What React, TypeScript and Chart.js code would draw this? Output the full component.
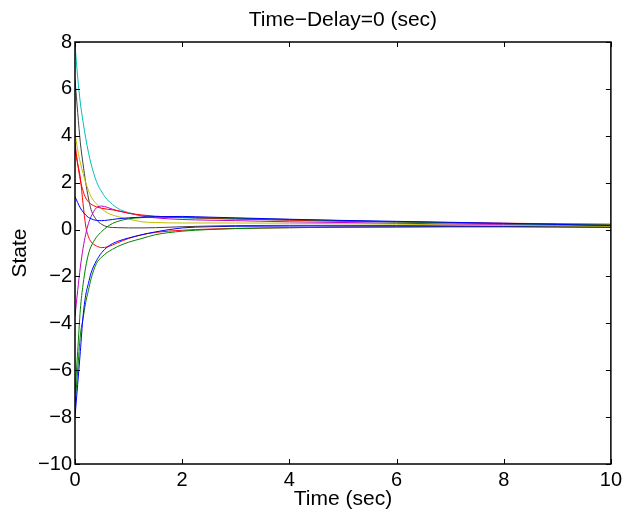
import React, { useEffect, useRef } from "react";
import { Chart, registerables } from "chart.js";

Chart.register(...registerables);

const TITLE = "Time\u2212Delay=0 (sec)";
const X_LABEL = "Time (sec)";
const Y_LABEL = "State";

const X_TICKS = [0, 2, 4, 6, 8, 10];
const Y_TICKS = [-10, -8, -6, -4, -2, 0, 2, 4, 6, 8];

const time = [0, 0.05, 0.1, 0.15, 0.2, 0.25, 0.3, 0.4, 0.5, 0.6, 0.7, 0.8, 1.0, 1.25, 1.5, 2, 2.5, 3, 4, 5, 6, 7, 8, 9, 10];

const blue1 = [1.4, 1.15, 0.92, 0.75, 0.62, 0.52, 0.46, 0.39, 0.38, 0.4, 0.43, 0.46, 0.5, 0.53, 0.55, 0.56, 0.53, 0.5, 0.44, 0.39, 0.35, 0.31, 0.27, 0.22, 0.17];
const green1 = [-7.0, -5.2, -3.4, -2.35, -1.6, -1.05, -0.72, -0.33, -0.08, 0.12, 0.26, 0.35, 0.46, 0.51, 0.53, 0.52, 0.5, 0.48, 0.43, 0.38, 0.33, 0.29, 0.25, 0.22, 0.19];
const red1 = [3.7, 2.8, 2.1, 1.65, 1.35, 1.18, 1.08, 0.97, 0.91, 0.87, 0.84, 0.8, 0.7, 0.62, 0.57, 0.52, 0.48, 0.45, 0.4, 0.36, 0.33, 0.3, 0.27, 0.25, 0.23];
const cyan1 = [7.9, 6.5, 5.4, 4.6, 3.9, 3.3, 2.8, 2.05, 1.6, 1.28, 1.07, 0.9, 0.72, 0.6, 0.55, 0.5, 0.47, 0.45, 0.4, 0.35, 0.32, 0.28, 0.25, 0.22, 0.2];
const magenta1 = [-3.7, -2.6, -1.6, -0.8, -0.2, 0.25, 0.55, 0.93, 1.0, 0.95, 0.87, 0.8, 0.7, 0.58, 0.5, 0.43, 0.4, 0.38, 0.33, 0.3, 0.27, 0.24, 0.22, 0.2, 0.18];
const yellow1 = [4.1, 3.4, 2.85, 2.4, 2.0, 1.68, 1.4, 1.1, 0.88, 0.72, 0.62, 0.55, 0.45, 0.33, 0.3, 0.28, 0.28, 0.28, 0.27, 0.25, 0.23, 0.2, 0.18, 0.16, 0.14];
const black1 = [6.4, 5.0, 3.7, 2.8, 2.0, 1.35, 0.85, 0.42, 0.22, 0.12, 0.09, 0.08, 0.07, 0.07, 0.08, 0.12, 0.15, 0.17, 0.18, 0.18, 0.17, 0.16, 0.15, 0.14, 0.12];
const blue2 = [-8.0, -6.6, -5.2, -3.7, -2.8, -2.3, -1.85, -1.33, -0.98, -0.75, -0.6, -0.5, -0.36, -0.22, -0.1, 0.07, 0.12, 0.14, 0.15, 0.15, 0.15, 0.14, 0.13, 0.12, 0.1];
const green2 = [-7.5, -6.0, -4.5, -3.8, -3.1, -2.6, -2.1, -1.45, -1.17, -0.98, -0.84, -0.72, -0.54, -0.38, -0.22, -0.07, 0.0, 0.04, 0.08, 0.1, 0.11, 0.12, 0.12, 0.12, 0.12];
const red2 = [3.4, 2.8, 2.2, 1.1, 0.15, -0.3, -0.52, -0.7, -0.77, -0.74, -0.66, -0.56, -0.38, -0.22, -0.12, -0.03, 0.02, 0.05, 0.08, 0.1, 0.11, 0.12, 0.12, 0.11, 0.1];

const seriesValues = [blue1, green1, red1, cyan1, magenta1, yellow1, black1, blue2, green2, red2];
const seriesColors = ["#0000ff", "#008000", "#ff0000", "#00bfbf", "#bf00bf", "#bfbf00", "#404040", "#0000ff", "#008000", "#ff0000"];

const FAMILY = "'Liberation Sans', Arial, Helvetica, sans-serif";
const TICK_FONT = { family: FAMILY, size: 20, weight: "normal" as const };
const LABEL_FONT = { family: FAMILY, size: 21, weight: "normal" as const };

const fmt = (v: number | string) => {
  const n = Number(v);
  return n < 0 ? "\u2212" + Math.abs(n) : String(n);
};

const framePlugin = {
  id: "matlabFrame",
  afterDraw(chart: any) {
    const { ctx, chartArea } = chart;
    const { left, right, top, bottom } = chartArea;
    const xs = chart.scales.x;
    const ys = chart.scales.y;
    const len = 5;
    ctx.save();
    ctx.strokeStyle = "#000";
    ctx.lineWidth = 1;
    ctx.beginPath();
    X_TICKS.forEach((t) => {
      const px = Math.round(xs.getPixelForValue(t)) + 0.5;
      ctx.moveTo(px, bottom);
      ctx.lineTo(px, bottom - len);
      ctx.moveTo(px, top);
      ctx.lineTo(px, top + len);
    });
    Y_TICKS.forEach((t) => {
      const py = Math.round(ys.getPixelForValue(t)) + 0.5;
      ctx.moveTo(left, py);
      ctx.lineTo(left + len, py);
      ctx.moveTo(right, py);
      ctx.lineTo(right - len, py);
    });
    ctx.stroke();
    ctx.lineWidth = 1.5;
    ctx.strokeRect(left, top, right - left, bottom - top);
    // title centred over the plot box
    ctx.fillStyle = "#000";
    ctx.font = `normal ${LABEL_FONT.size}px ${FAMILY}`;
    ctx.textAlign = "center";
    ctx.textBaseline = "middle";
    ctx.fillText(TITLE, (left + right) / 2, 20);
    ctx.restore();
  },
};

export default function App() {
  const ref = useRef<HTMLCanvasElement | null>(null);

  useEffect(() => {
    if (!ref.current) return;
    const chart = new Chart(ref.current, {
      type: "line",
      data: {
        datasets: seriesValues.map((vals, i) => ({
          data: time.map((t, j) => ({ x: t, y: vals[j] })),
          borderColor: seriesColors[i],
          backgroundColor: seriesColors[i],
          borderWidth: 1,
          pointRadius: 0,
          fill: false,
          cubicInterpolationMode: "monotone" as const,
        })),
      },
      options: {
        animation: false,
        responsive: true,
        maintainAspectRatio: false,
        layout: { padding: { top: 42, right: 15, bottom: 0, left: 0 } },
        plugins: {
          legend: { display: false },
          tooltip: { enabled: false },
          title: { display: false },
        },
        scales: {
          x: {
            type: "linear",
            min: 0,
            max: 10,
            afterFit: (s: any) => {
              s.height = 48;
            },
            ticks: {
              stepSize: 2,
              color: "#000",
              font: TICK_FONT,
              padding: 4,
              maxRotation: 0,
              autoSkip: false,
              callback: (v: any) => fmt(v),
            },
            grid: { display: false, drawTicks: false },
            border: { display: false },
            title: { display: true, text: X_LABEL, color: "#000", font: LABEL_FONT, padding: { top: 0, bottom: 0 } },
          },
          y: {
            type: "linear",
            min: -10,
            max: 8,
            afterFit: (s: any) => {
              s.width = 75;
            },
            ticks: {
              stepSize: 2,
              color: "#000",
              font: TICK_FONT,
              padding: 3,
              autoSkip: false,
              callback: (v: any) => fmt(v),
            },
            grid: { display: false, drawTicks: false },
            border: { display: false },
            title: { display: true, text: Y_LABEL, color: "#000", font: LABEL_FONT, padding: { top: 8, bottom: 0 } },
          },
        },
      },
      plugins: [framePlugin],
    });
    return () => chart.destroy();
  }, []);

  return (
    <div style={{ position: "absolute", left: 0, top: 0, width: 626, height: 512, background: "#fff" }}>
      <canvas ref={ref} />
    </div>
  );
}
